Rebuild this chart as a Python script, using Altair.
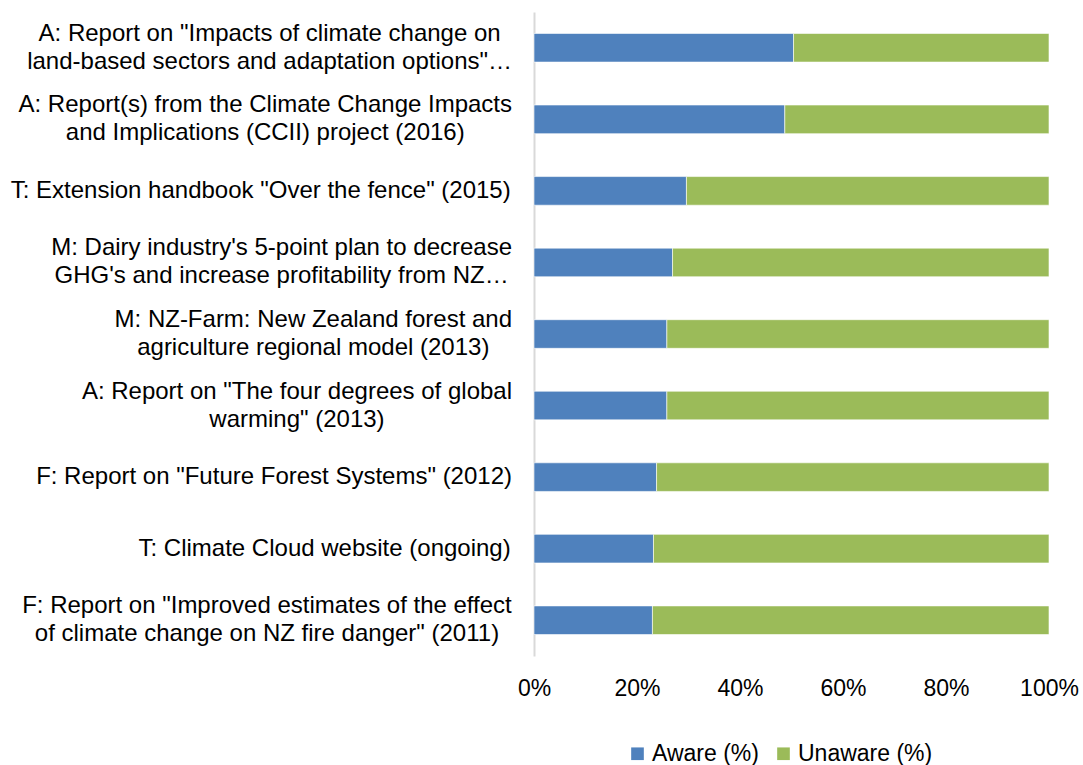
import altair as alt
import pandas as pd

# ---- data ----
label_lines = [
    ['A: Report on "Impacts of climate change on', 'land-based sectors and adaptation options"…'],
    ['A: Report(s) from the Climate Change Impacts', 'and Implications (CCII) project (2016)'],
    ['T: Extension handbook "Over the fence" (2015)'],
    ["M: Dairy industry's 5-point plan to decrease", "GHG's and increase profitability from NZ…"],
    ['M: NZ-Farm: New Zealand forest and', 'agriculture regional model (2013)'],
    ['A: Report on "The four degrees of global', 'warming" (2013)'],
    ['F: Report on "Future Forest Systems" (2012)'],
    ['T: Climate Cloud website (ongoing)'],
    ['F: Report on "Improved estimates of the effect', 'of climate change on NZ fire danger" (2011)'],
]
aware = [50.4, 48.7, 29.6, 26.9, 25.8, 25.8, 23.8, 23.2, 23.0]
unaware = [49.6, 51.3, 70.4, 73.1, 74.2, 74.2, 76.2, 76.8, 77.0]
series = ["Aware (%)", "Unaware (%)"]
colors = ["#4F81BD", "#9BBB59"]
tick_values = [0, 0.2, 0.4, 0.6, 0.8, 1.0]

FONT = "Liberation Sans"
LABEL_FS = 24
LABEL_GAP = 22

# Arial / Liberation Sans advance widths (per 1000 em) to centre wrapped label lines
W = {' ': 278, '"': 355, "'": 191, '(': 333, ')': 333, '-': 333, '.': 278, ':': 278,
     '…': 1000, '%': 889,
     'A': 667, 'B': 667, 'C': 722, 'D': 722, 'E': 667, 'F': 611, 'G': 778, 'H': 722,
     'I': 278, 'J': 500, 'K': 667, 'L': 556, 'M': 833, 'N': 722, 'O': 778, 'P': 667,
     'Q': 778, 'R': 722, 'S': 667, 'T': 611, 'U': 722, 'V': 667, 'W': 944, 'X': 667,
     'Y': 667, 'Z': 611,
     'a': 556, 'b': 556, 'c': 500, 'd': 556, 'e': 556, 'f': 278, 'g': 556, 'h': 556,
     'i': 222, 'j': 222, 'k': 500, 'l': 222, 'm': 833, 'n': 556, 'o': 556, 'p': 556,
     'q': 556, 'r': 333, 's': 500, 't': 278, 'u': 556, 'v': 500, 'w': 722, 'x': 500,
     'y': 500, 'z': 500}


def tw(s):
    return sum(W.get(c, 556) for c in s) / 1000.0 * LABEL_FS


cats = [l[0] for l in label_lines]

rows = []
for c, a, u in zip(cats, aware, unaware):
    rows.append({"label": c, "series": series[0], "value": a, "order": 0})
    rows.append({"label": c, "series": series[1], "value": u, "order": 1})
df = pd.DataFrame(rows)

lab_rows = []
for c, lines in zip(cats, label_lines):
    block = max(tw(l) for l in lines)
    lab_rows.append({"label": c, "text": "\n".join(lines), "n": len(lines),
                     "cx": -(LABEL_GAP + block / 2.0)})
df_lab = pd.DataFrame(lab_rows)

y_enc = alt.Y(
    "label:N",
    sort=cats,
    scale=alt.Scale(paddingInner=0.6, paddingOuter=0.3),
    axis=alt.Axis(title=None, ticks=False, labels=False, domainColor="#d9d9d9",
                  domainWidth=2),
)

bars = alt.Chart(df).mark_bar(stroke="#ffffff", strokeWidth=0.6).encode(
    y=y_enc,
    x=alt.X(
        "value:Q",
        stack="normalize",
        scale=alt.Scale(domain=[0, 1], nice=False),
        axis=alt.Axis(
            title=None, format=".0%", values=tick_values, domain=False, ticks=False,
            grid=False, labelFontSize=23, labelPadding=21, labelColor="#000000",
            labelFont=FONT, labelFlush=False,
        ),
    ),
    color=alt.Color(
        "series:N",
        scale=alt.Scale(domain=series, range=colors),
        legend=alt.Legend(
            title=None, orient="none", legendX=92, legendY=730, direction="horizontal",
            symbolType="square", symbolSize=160, symbolStrokeWidth=0,
            labelFontSize=23, labelFont=FONT, labelColor="#000000",
            columnPadding=13, labelOffset=3, padding=0,
        ),
    ),
    order=alt.Order("order:Q"),
)

text_base = alt.Chart(df_lab).encode(
    y=alt.Y("label:N", sort=cats),
    x=alt.X("cx:Q", scale=None),
    text="text:N",
)
one_line = text_base.transform_filter("datum.n == 1").mark_text(
    align="center", baseline="middle", lineBreak="\n", fontSize=LABEL_FS,
    lineHeight=28, font=FONT, color="#000000")
two_line = text_base.transform_filter("datum.n == 2").mark_text(
    align="center", baseline="middle", lineBreak="\n", fontSize=LABEL_FS,
    lineHeight=28, font=FONT, color="#000000", dy=-14)

chart = alt.layer(bars, one_line, two_line).properties(
    width=515,
    height=644,
    autosize=alt.AutoSizeParams(type="none"),
    padding={"left": 534, "top": 12, "right": 34, "bottom": 109},
).configure(font=FONT).configure_view(stroke=None)

chart.save("out.html", embed_options={"renderer": "svg", "actions": False})
